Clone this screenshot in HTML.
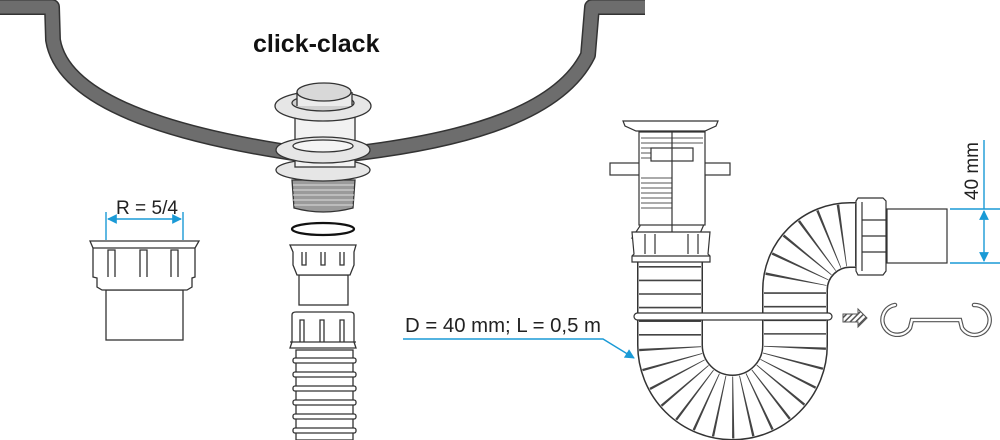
<!DOCTYPE html>
<html><head><style>
html,body{margin:0;padding:0;background:#fff;width:1000px;height:440px;overflow:hidden}
svg{display:block}
text{font-family:"Liberation Sans",sans-serif}
</style></head><body>
<svg width="1000" height="440" viewBox="0 0 1000 440" xmlns="http://www.w3.org/2000/svg">
<defs>
<marker id="ab" viewBox="0 0 10 10" refX="9" refY="5" markerWidth="7" markerHeight="7" orient="auto-start-reverse"><path d="M0,0L10,5L0,10z" fill="#1a9ad6"/></marker>
<pattern id="hatch" width="4" height="4" patternUnits="userSpaceOnUse" patternTransform="rotate(45)"><rect width="4" height="4" fill="#fff"/><rect width="1.5" height="4" fill="#555"/></pattern>
</defs>
<g fill="none" stroke-linejoin="round">
<path d="M0,7 L52,7 L53,40 C62,95 150,132 300,154" stroke="#333" stroke-width="16"/>
<path d="M0,7 L52,7 L53,40 C62,95 150,132 300,154" stroke="#6d6d6d" stroke-width="13"/>
<path d="M350,154 C470,140 560,112 588,55 L592,7 L645,7" stroke="#333" stroke-width="16"/>
<path d="M350,154 C470,140 560,112 588,55 L592,7 L645,7" stroke="#6d6d6d" stroke-width="13"/>
</g>
<text x="253" y="52" font-size="25" font-weight="bold" fill="#111">click-clack</text>
<g stroke="#333" stroke-width="1.3" fill="#e6e6e6">
<path d="M292,180 L355,180 L353,208 Q323,216 294,208 Z" fill="#9a9a9a"/>
<g stroke="#ddd" stroke-width="1"><line x1="293" y1="185" x2="354" y2="185"/><line x1="293" y1="190" x2="354" y2="190"/><line x1="293" y1="195" x2="354" y2="195"/><line x1="293" y1="200" x2="354" y2="200"/><line x1="294" y1="205" x2="353" y2="205"/></g>
<ellipse cx="323" cy="170" rx="47" ry="11"/>
<rect x="295" y="112" width="60" height="55" fill="#f2f2f2"/>
<ellipse cx="323" cy="150" rx="47" ry="13"/>
<ellipse cx="323" cy="146" rx="30" ry="6" fill="#f4f4f4"/>
<ellipse cx="323" cy="106" rx="48" ry="15"/>
<ellipse cx="323" cy="103" rx="31" ry="8" fill="#d0d0d0"/>
<rect x="297" y="92" width="55" height="14" fill="#ececec" stroke="none"/>
<line x1="297" y1="92" x2="297" y2="106"/><line x1="352" y1="92" x2="352" y2="106"/>
<ellipse cx="324" cy="92" rx="27" ry="9" fill="#d8d8d8"/>
</g>
<ellipse cx="323" cy="229" rx="31" ry="6" fill="none" stroke="#111" stroke-width="2.2"/>
<g stroke="#333" stroke-width="1.3" fill="#fff">
<rect x="299" y="275" width="49" height="30"/>
<path d="M290,245 L356,245 L354,252 L354,265 L350,275 L297,275 L293,265 L293,252 Z"/>
<g fill="none"><path d="M302,252 v13 h4 v-13"/><path d="M321,252 v13 h4 v-13"/><path d="M340,252 v13 h4 v-13"/></g>
<path d="M292,315 Q292,312 296,312 L350,312 Q354,312 354,315 L354,342 L356,348 L290,348 L292,342 Z"/>
<line x1="290" y1="342" x2="356" y2="342"/>
<g fill="none"><path d="M300,342 v-22 h4 v22"/><path d="M320,342 v-22 h4 v22"/><path d="M340,342 v-22 h4 v22"/></g>
<rect x="296" y="350" width="57" height="90"/>
<g fill="#fff"><rect x="293" y="358" width="63" height="5" rx="2"/><rect x="293" y="372" width="63" height="5" rx="2"/><rect x="293" y="386" width="63" height="5" rx="2"/><rect x="293" y="400" width="63" height="5" rx="2"/><rect x="293" y="414" width="63" height="5" rx="2"/><rect x="293" y="428" width="63" height="5" rx="2"/></g>
</g>
<g stroke="#333" stroke-width="1.3" fill="#fff">
<rect x="106" y="290" width="77" height="50"/>
<path d="M90,241 L199,241 L195,248 L195,277 L192,278 L192,287 L187,290 L102,290 L97,287 L97,278 L93,277 L93,248 Z"/>
<line x1="93" y1="248" x2="195" y2="248"/>
<g fill="none"><path d="M108,277 v-27 h7 v27"/><path d="M140,277 v-27 h7 v27"/><path d="M171,277 v-27 h7 v27"/></g>
</g>
<g stroke="#1a9ad6" stroke-width="1.4" fill="none">
<line x1="106" y1="212" x2="106" y2="240"/><line x1="183" y1="212" x2="183" y2="240"/>
<line x1="108" y1="219" x2="181" y2="219" marker-start="url(#ab)" marker-end="url(#ab)"/>
</g>
<text x="116" y="214" font-size="19" fill="#222" textLength="62" lengthAdjust="spacingAndGlyphs">R = 5/4</text>
<g fill="none">
<path d="M670,262 L670,345 A62.5,62.5 0 0 0 795,345 L795,290 A55,55 0 0 1 850,235 L860,235" stroke="#333" stroke-width="66"/>
<path d="M670,262 L670,345 A62.5,62.5 0 0 0 795,345 L795,290 A55,55 0 0 1 850,235 L860,235" stroke="#fff" stroke-width="63"/>
<path d="M670,266 L670,345 A62.5,62.5 0 0 0 795,345 L795,290 A55,55 0 0 1 850,235 L856,235" stroke="#444" stroke-width="62" stroke-dasharray="1.6 12"/>
</g>
<g stroke="#333" stroke-width="1.2" fill="#fff">
<path d="M632,238 L640,226 L640,175 L705,175 L705,222 L698,238 Z"/>
<rect x="610" y="163" width="120" height="12"/>
<rect x="639" y="132" width="66" height="93" fill="#fff"/>
<g stroke="#555" stroke-width="0.9"><line x1="641" y1="138" x2="672" y2="138"/><line x1="641" y1="143" x2="672" y2="143"/><line x1="641" y1="148" x2="672" y2="148"/><line x1="641" y1="153" x2="672" y2="153"/><line x1="641" y1="158" x2="672" y2="158"/><line x1="641" y1="178" x2="672" y2="178"/><line x1="641" y1="183" x2="672" y2="183"/><line x1="641" y1="188" x2="672" y2="188"/><line x1="641" y1="193" x2="672" y2="193"/><line x1="641" y1="198" x2="672" y2="198"/><line x1="641" y1="203" x2="672" y2="203"/><line x1="641" y1="208" x2="672" y2="208"/><line x1="672" y1="138" x2="703" y2="138"/><line x1="672" y1="143" x2="703" y2="143"/></g>
<rect x="651" y="148" width="42" height="13"/>
<line x1="672" y1="132" x2="672" y2="262"/>
<path d="M623,121 L718,121 L716,126 L705,131 L636,131 L625,126 Z"/>
<path d="M632,232 L710,232 L708,254 L710,256 L710,262 L632,262 L632,256 L634,254 Z"/>
<line x1="632" y1="256" x2="710" y2="256"/>
<g fill="none"><line x1="645" y1="234" x2="645" y2="254"/><line x1="655" y1="234" x2="655" y2="254"/><line x1="688" y1="234" x2="688" y2="254"/><line x1="698" y1="234" x2="698" y2="254"/></g>
</g>
<rect x="634" y="313" width="198" height="7" rx="3.5" fill="#fff" stroke="#333" stroke-width="1.2"/>
<g stroke="#333" stroke-width="1.2" fill="#fff">
<rect x="887" y="209" width="60" height="54"/>
<path d="M856,201 L858,198 L883,198 L886,201 L886,271 L883,275 L858,275 L856,271 Z"/>
<g fill="none"><line x1="862" y1="202" x2="862" y2="271"/><line x1="862" y1="220" x2="886" y2="220"/><line x1="862" y1="236" x2="886" y2="236"/><line x1="862" y1="252" x2="886" y2="252"/></g>
</g>
<g stroke="#1a9ad6" stroke-width="1.4" fill="none">
<line x1="950" y1="209" x2="1000" y2="209"/><line x1="950" y1="263" x2="1000" y2="263"/>
<line x1="984" y1="140" x2="984" y2="209"/>
<line x1="984" y1="211" x2="984" y2="261" marker-start="url(#ab)" marker-end="url(#ab)"/>
</g>
<text x="0" y="0" font-size="19" fill="#222" transform="translate(978,200) rotate(-90)" textLength="58" lengthAdjust="spacingAndGlyphs">40 mm</text>
<path d="M843,314 L858,314 L858,309 L867,318 L858,327 L858,322 L843,322 Z" fill="url(#hatch)" stroke="#555" stroke-width="1"/>
<path d="M895,305 A15,15 0 1 0 910,328 L912,320 L960,320 L962,328 A15,15 0 1 0 974,305" fill="none" stroke="#555" stroke-width="4.5" stroke-linecap="round"/>
<path d="M895,305 A15,15 0 1 0 910,328 L912,320 L960,320 L962,328 A15,15 0 1 0 974,305" fill="none" stroke="#fff" stroke-width="2.2" stroke-linecap="round"/>
<text x="405" y="332" font-size="20" fill="#222" textLength="196" lengthAdjust="spacingAndGlyphs">D = 40 mm; L = 0,5 m</text>
<path d="M403,339 L603,339 L634,358" fill="none" stroke="#1a9ad6" stroke-width="1.4" marker-end="url(#ab)"/>
</svg>
</body></html>
